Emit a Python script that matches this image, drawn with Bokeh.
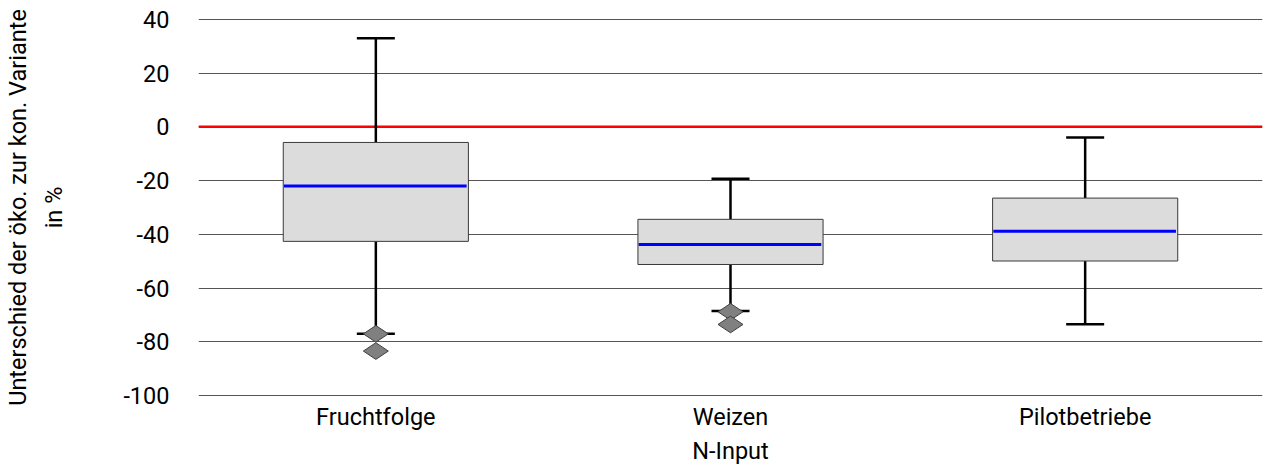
import math
from bokeh.plotting import figure
from bokeh.models import (ColumnDataSource, FactorRange, Range1d, FixedTicker, Span)
from bokeh.transform import dodge
from bokeh.embed import file_html
from bokeh.resources import INLINE

# ---- data ----
categories = ["Fruchtfolge", "Weizen", "Pilotbetriebe"]
upper_whisker = [33.0, -19.3, -4.0]
q3 = [-5.8, -34.4, -26.5]
median = [-22.0, -43.8, -38.8]
q1 = [-42.6, -51.2, -49.9]
lower_whisker = [-77.0, -68.5, -73.4]
outlier_cat = ["Fruchtfolge", "Fruchtfolge", "Weizen", "Weizen"]
outlier_val = [-77.0, -83.4, -68.8, -73.5]
y_ticks = [-100, -80, -60, -40, -20, 0, 20, 40]
y_tick_labels = ["-100", "-80", "-60", "-40", "-20", "0", "20", "40"]
x_title = "N-Input"
y_title = "Unterschied der öko. zur kon. Variante\nin %"

FONT = "Roboto"
FS = "23.5px"

src = ColumnDataSource(dict(cat=categories, upper=upper_whisker, q3=q3,
                            med=median, q1=q1, lower=lower_whisker))
out_src = ColumnDataSource(dict(cat=outlier_cat, val=outlier_val))

p = figure(width=1264, height=471, output_backend="svg", toolbar_location=None,
           x_range=FactorRange(factors=categories, range_padding=0),
           y_range=Range1d(-100.3, 40.3),
           min_border_left=198, min_border_right=2, min_border_top=18,
           min_border_bottom=75)
p.outline_line_color = None
p.background_fill_color = "white"

# grid
p.xgrid.grid_line_color = None
p.ygrid.ticker = FixedTicker(ticks=y_ticks)
p.ygrid.grid_line_color = "#555555"
p.ygrid.grid_line_width = 1

# zero line
zero = Span(location=0, dimension="width", line_color="#FF0000", line_width=2.5,
            level="underlay")
p.add_layout(zero)

# whisker stems
p.segment(x0="cat", y0="q3", x1="cat", y1="upper", source=src,
          line_color="black", line_width=2.5)
p.segment(x0="cat", y0="q1", x1="cat", y1="lower", source=src,
          line_color="black", line_width=2.5)
# caps
p.scatter(x="cat", y="upper", source=src, marker="dash", size=38,
          line_color="black", line_width=2.5)
p.scatter(x="cat", y="lower", source=src, marker="dash", size=38,
          line_color="black", line_width=2.5)

# boxes
p.vbar(x="cat", top="q3", bottom="q1", width=0.522, source=src,
       fill_color="#DCDCDC", line_color="#3a3a3a", line_width=1)

# median
p.segment(x0=dodge("cat", -0.259, range=p.x_range), y0="med",
          x1=dodge("cat", 0.256, range=p.x_range), y1="med", source=src,
          line_color="#0000FF", line_width=3)

# outliers
p.scatter(x="cat", y="val", source=out_src, marker="diamond", size=25,
          angle=math.pi / 2, fill_color="#808080", line_color="#404040",
          line_width=1)

# axes
p.yaxis.ticker = FixedTicker(ticks=y_ticks)
p.yaxis.major_label_overrides = {t: s for t, s in zip(y_ticks, y_tick_labels)}
for ax in (p.xaxis[0], p.yaxis[0]):
    ax.axis_line_color = None
    ax.major_tick_line_color = None
    ax.minor_tick_line_color = None
    ax.major_label_text_font = FONT
    ax.major_label_text_font_size = FS
    ax.major_label_text_color = "black"
    ax.axis_label_text_font = FONT
    ax.axis_label_text_font_size = FS
    ax.axis_label_text_font_style = "normal"
    ax.axis_label_text_color = "black"

p.yaxis.major_label_standoff = 23
p.yaxis.axis_label = y_title
p.yaxis.axis_label_standoff = 52
p.yaxis.axis_label_text_line_height = 1.3

p.xaxis.major_label_standoff = 0
p.xaxis.axis_label = x_title
p.xaxis.axis_label_standoff = 3

open("out.html", "w").write(file_html(p, INLINE))
